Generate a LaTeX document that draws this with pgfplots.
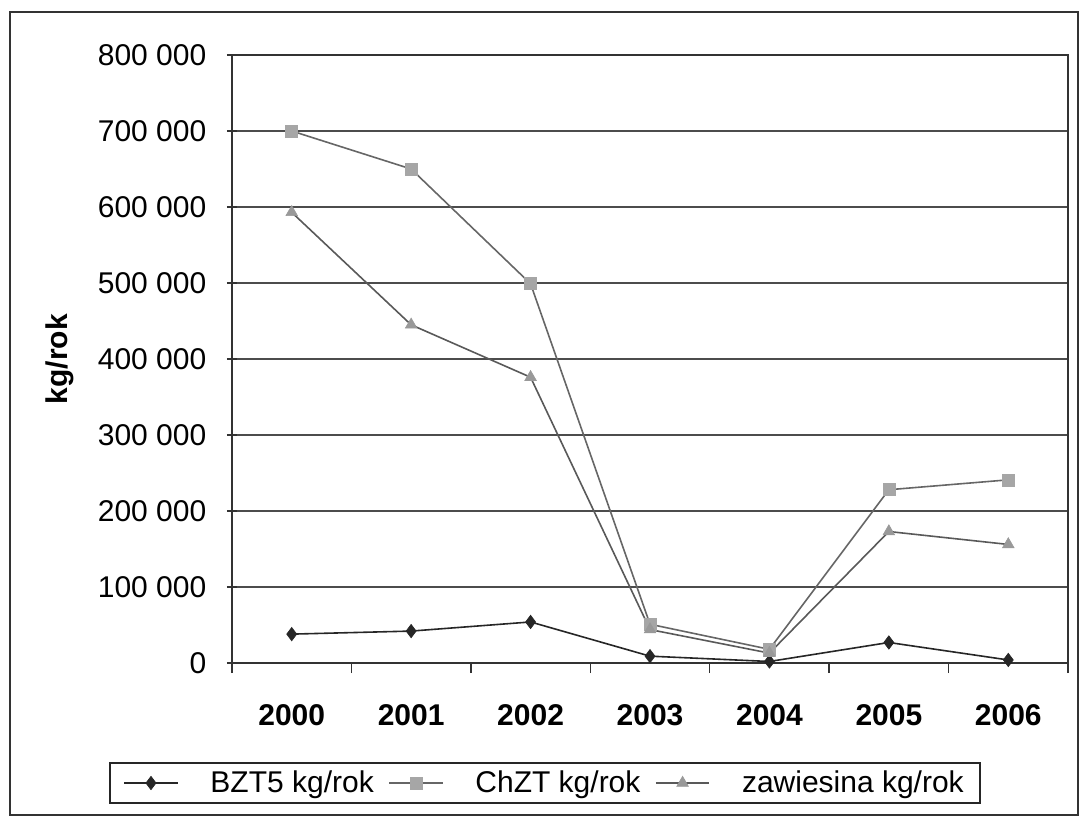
\documentclass[border=0pt]{standalone}
\usepackage{pgfplots}
\pgfplotsset{compat=1.18}
\usepackage{fontspec}
\setmainfont{Liberation Sans}
\newcommand{\fs}{\fontsize{22.5}{27}\selectfont}
\begin{document}
\begin{tikzpicture}[x=0.75pt,y=0.75pt]
\path[use as bounding box] (0,0) rectangle (1082,819);
\draw[black!80,line width=1.5pt] (10,4) rectangle (1078,807);
\begin{axis}[
  at={(174pt,117pt)}, anchor=south west,
  scale only axis, width=627pt, height=456pt,
  xmin=-0.5, xmax=6.5, ymin=0, ymax=800000,
  scaled y ticks=false,
  xtick={-0.5,0.5,1.5,2.5,3.5,4.5,5.5,6.5},
  xticklabels={2000,2001,2002,2003,2004,2005,2006,{}},
  xticklabel style={xshift=44.8pt, yshift=-20pt, font=\fs\bfseries},
  ytick={0,100000,...,800000},
  yticklabels={0,100 000,200 000,300 000,400 000,500 000,600 000,700 000,800 000},
  yticklabel style={font=\fs, xshift=-12pt},
  tick pos=left,
  xtick align=outside, ytick align=center,
  major tick length=7.5pt,
  tick style={black!80, line width=1pt},
  ymajorgrids,
  grid style={black!70, line width=1.4pt},
  axis line style={black!80, line width=1pt},
  ylabel={kg/rok},
  ylabel style={at={(axis description cs:-0.206,0.5)}, anchor=center, font=\fs\bfseries},
  legend columns=3,
  legend style={at={(axis description cs:0.3744,-0.1974)}, anchor=center,
    draw=black!85, line width=1.3pt, font=\fs, inner xsep=10pt, inner ysep=4pt,
    /tikz/every odd column/.append style={column sep=22pt},
    /tikz/every even column/.append style={column sep=9pt}},
  legend image code/.code={\draw[#1, mark repeat=2, mark phase=2] plot coordinates {(0pt,0pt) (20pt,0pt) (40pt,0pt)};},
  legend cell align=left,
]
\addplot[black!85, line width=1.2pt, mark=diamond*, mark size=5pt, mark options={fill=black!85, draw=black!85, line width=0.5pt}]
 coordinates {(0,38000) (1,42000) (2,54000) (3,9000) (4,2000) (5,27000) (6,4000)};
\addlegendentry{BZT5 kg/rok}
\addplot[black!60, line width=1.2pt, mark=square*, mark size=4.5pt, mark options={fill=black!35, draw=black!35, line width=0.5pt}]
 coordinates {(0,700000) (1,650000) (2,499000) (3,51000) (4,18000) (5,228000) (6,241000)};
\addlegendentry{ChZT kg/rok}
\addplot[black!65, line width=1.2pt, mark=triangle*, mark size=5pt, mark options={fill=black!40, draw=black!40, line width=0.5pt}]
 coordinates {(0,593000) (1,445000) (2,376000) (3,44000) (4,13000) (5,173000) (6,156000)};
\addlegendentry{zawiesina kg/rok}
\end{axis}
\end{tikzpicture}
\end{document}
